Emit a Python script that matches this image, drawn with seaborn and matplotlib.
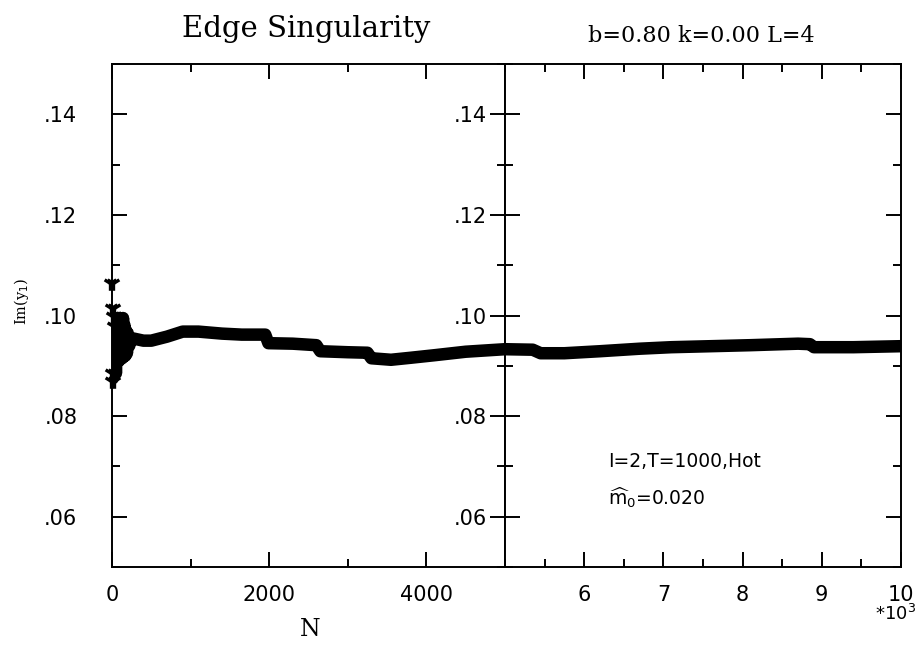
import matplotlib
matplotlib.use("Agg")
import matplotlib.pyplot as plt
import seaborn as sns
import pandas as pd
from matplotlib.ticker import MultipleLocator, FuncFormatter

# ---- data ----
n_burst = [0, 10, 20, 30, 40, 50, 60, 70, 80, 90, 100, 110, 120, 130, 140,
           150, 160, 170, 180, 190, 200, 220, 240]
v_burst = [0.094, 0.0875, 0.0995, 0.089, 0.0975, 0.0885, 0.098, 0.0915, 0.0995, 0.091,
           0.0995, 0.0925, 0.0990, 0.0915, 0.0995, 0.0930, 0.098, 0.0920, 0.097,
           0.0925, 0.0965, 0.094, 0.0955]

n_main = [250, 400, 500, 700, 900, 1100, 1400, 1650, 1950, 1990, 2300, 2600,
          2650, 3000, 3250, 3300, 3550, 3800, 4100, 4500, 5000, 5350, 5450,
          5750, 6200, 6700, 7100, 7600, 8100, 8700, 8850, 8900, 9400, 10000]
v_main = [0.0955, 0.0950, 0.0950, 0.0958, 0.0968, 0.0968, 0.0964, 0.0962,
          0.0962, 0.0945, 0.0944, 0.0941, 0.0929, 0.0927, 0.0926, 0.0915,
          0.0912, 0.0916, 0.0921, 0.0928, 0.0933, 0.0932, 0.0925, 0.0925,
          0.0929, 0.0934, 0.0937, 0.0939, 0.0941, 0.0944, 0.0943, 0.0937,
          0.0937, 0.0939]

n_marks = [15, 25, 35, 45, 20, 30]
v_marks = [0.1064, 0.1014, 0.0999, 0.0980, 0.0886, 0.0870]

yticks_major = [0.06, 0.08, 0.10, 0.12, 0.14]
left_xticks = [0, 2000, 4000]
right_xticks = [6000, 7000, 8000, 9000, 10000]

df = pd.DataFrame({"N": n_burst + n_main, "v": v_burst + v_main})
dm = pd.DataFrame({"N": n_marks, "v": v_marks})

sns.set_style("ticks")
plt.rcParams["font.family"] = ["DejaVu Sans"]
plt.rcParams["text.color"] = "black"
plt.rcParams["xtick.color"] = "black"
plt.rcParams["ytick.color"] = "black"
plt.rcParams["axes.labelcolor"] = "black"

fig = plt.figure(figsize=(9.21, 6.48), dpi=100)
axL = fig.add_axes([0.1216, 0.125, 0.4267, 0.7762])
axR = fig.add_axes([0.5483, 0.125, 0.4300, 0.7762])

for ax in (axL, axR):
    sns.lineplot(data=df, x="N", y="v", ax=ax, color="black", lw=9,
                 solid_joinstyle="round", solid_capstyle="round", sort=False,
                 estimator=None)
    sns.scatterplot(data=dm, x="N", y="v", ax=ax, marker="1", s=110,
                    color="black", linewidth=2.4, clip_on=False)
    ax.set_ylim(0.05, 0.15)
    ax.set_xlabel("")
    ax.set_ylabel("")
    for s in ax.spines.values():
        s.set_linewidth(1.4)
        s.set_color("black")
    ax.yaxis.set_minor_locator(MultipleLocator(0.01))
    ax.set_yticks(yticks_major)
    ax.yaxis.set_major_formatter(FuncFormatter(lambda v, p: ("%.2f" % v)[1:]))

axL.set_xlim(0, 5000)
axL.set_xticks(left_xticks)
axL.xaxis.set_minor_locator(MultipleLocator(1000))
axL.set_xticklabels([str(t) for t in left_xticks])
axL.tick_params(axis="both", which="both", direction="in", top=True,
                right=True, width=1.4, labelsize=15)
axL.tick_params(axis="both", which="major", length=11)
axL.tick_params(axis="both", which="minor", length=5.5)
axL.tick_params(axis="y", which="major", pad=25)
axL.tick_params(axis="x", which="major", pad=13)

axR.set_xlim(5000, 10000)
axR.set_xticks(right_xticks)
axR.xaxis.set_minor_locator(MultipleLocator(500))
axR.set_xticklabels([str(t // 1000) for t in right_xticks])
axR.tick_params(axis="both", which="both", direction="in", top=True,
                right=True, left=True, width=1.4, labelsize=15)
axR.tick_params(axis="both", which="major", length=11)
axR.tick_params(axis="both", which="minor", length=5.5)
axR.tick_params(axis="y", which="major", pad=13)
axR.tick_params(axis="x", which="major", pad=13)

fig.text(0.332, 0.955, "Edge Singularity", family="DejaVu Serif",
         fontsize=21, ha="center", va="center")
fig.text(0.762, 0.945, "b=0.80 k=0.00 L=4", family="DejaVu Serif",
         fontsize=16, ha="center", va="center")
fig.text(0.023, 0.535, r"Im(y$_1$)", family="DejaVu Serif", fontsize=10.5,
         rotation=90, ha="center", va="center")
fig.text(0.337, 0.028, "N", family="DejaVu Serif", fontsize=17,
         ha="center", va="center")
fig.text(0.972, 0.052, r"*10$^3$", fontsize=13, ha="center", va="center")

axR.text(0.26, 0.209, "I=2,T=1000,Hot", transform=axR.transAxes,
         fontsize=13.5, ha="left", va="center")
axR.text(0.26, 0.137, r"$\widehat{\mathrm{m}}_0$=0.020", transform=axR.transAxes,
         fontsize=13.5, ha="left", va="center")

fig.savefig("out.png", dpi=100)
